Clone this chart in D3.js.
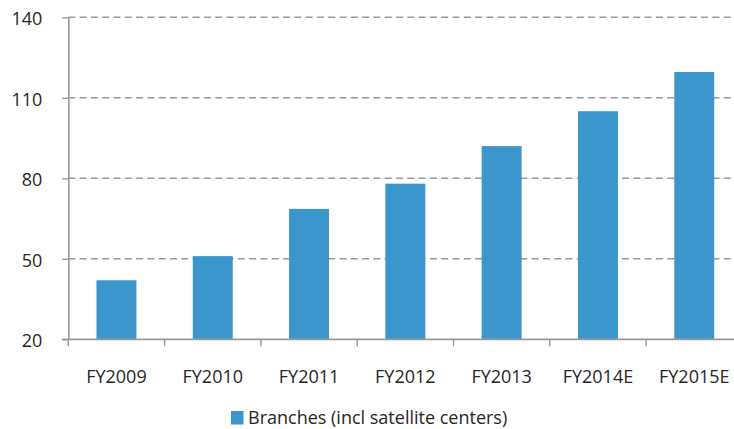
<!DOCTYPE html>
<html>
<head>
<meta charset="utf-8">
<script src="https://cdn.jsdelivr.net/npm/d3@7"></script>
<style>
  html, body { margin: 0; padding: 0; background: #fff; }
  svg { display: block; font-family: "Open Sans", sans-serif; }
</style>
</head>
<body>
<svg id="chart" width="734" height="429"></svg>
<script>
// Branch count by fiscal year
const categories = ["FY2009", "FY2010", "FY2011", "FY2012", "FY2013", "FY2014E", "FY2015E"];
const branches = [42, 51, 68.6, 78, 92, 105, 119.6];
const yTicks = [20, 50, 80, 110, 140];
const seriesName = "Branches (incl satellite centers)";

const W = 734, H = 429;
const plotLeft = 68.3, plotTop = 17.3, plotBottom = 339.3, step = 96.3;
const barColor = "#3A96CD";
const axisColor = "#999999";
const textColor = "#262626";

const svg = d3.select("#chart");

const x = d3.scaleBand()
  .domain(categories)
  .range([plotLeft, plotLeft + step * categories.length])
  .paddingInner(0.585)
  .paddingOuter(0.2925);

const y = d3.scaleLinear().domain([20, 140]).range([plotBottom, plotTop]);

// dashed horizontal gridlines
svg.append("g")
  .selectAll("line")
  .data(yTicks.filter(d => d !== 20))
  .join("line")
  .attr("x1", plotLeft).attr("x2", W)
  .attr("y1", d => y(d)).attr("y2", d => y(d))
  .attr("stroke", axisColor)
  .attr("stroke-width", 1.4)
  .attr("stroke-dasharray", "7,4.3");

// bars
svg.append("g")
  .selectAll("rect")
  .data(categories.map((c, i) => ({ c, v: branches[i] })))
  .join("rect")
  .attr("x", d => x(d.c))
  .attr("width", x.bandwidth())
  .attr("y", d => y(d.v))
  .attr("height", d => y(20) - y(d.v))
  .attr("fill", barColor);

// y axis
const yAxis = svg.append("g")
  .attr("transform", `translate(${plotLeft},0)`)
  .call(d3.axisLeft(y).tickValues(yTicks).tickSize(6).tickPadding(20).tickSizeOuter(0));
yAxis.select(".domain").attr("stroke", axisColor).attr("stroke-width", 1.6);
yAxis.selectAll(".tick line").attr("stroke", axisColor).attr("stroke-width", 1.4);
yAxis.selectAll(".tick text")
  .attr("font-size", 18)
  .attr("font-family", "Open Sans, sans-serif")
  .attr("fill", textColor)
  .attr("dy", "0.42em");

// x axis baseline
svg.append("line")
  .attr("x1", plotLeft - 6).attr("x2", W)
  .attr("y1", plotBottom).attr("y2", plotBottom)
  .attr("stroke", axisColor)
  .attr("stroke-width", 1.8);

// category boundary ticks
const bounds = categories.map(c => x(c) - x.step() * x.paddingInner() / 2);
bounds.push(bounds[bounds.length - 1] + x.step());
svg.append("g")
  .selectAll("line")
  .data(bounds)
  .join("line")
  .attr("x1", d => d).attr("x2", d => d)
  .attr("y1", plotBottom).attr("y2", plotBottom + 7)
  .attr("stroke", axisColor)
  .attr("stroke-width", 1.4);

// category labels
const xAxis = svg.append("g")
  .attr("transform", `translate(0,${plotBottom})`)
  .call(d3.axisBottom(x).tickSize(0).tickPadding(31));
xAxis.select(".domain").remove();
xAxis.selectAll(".tick text")
  .attr("font-size", 18)
  .attr("font-family", "Open Sans, sans-serif")
  .attr("fill", textColor);

// legend
const legend = svg.append("g").attr("transform", "translate(231,411)");
legend.append("rect")
  .attr("width", 12.5).attr("height", 13.5)
  .attr("fill", barColor);
legend.append("text")
  .attr("x", 17).attr("y", 13.2)
  .attr("font-size", 18)
  .attr("font-family", "Open Sans, sans-serif")
  .attr("fill", textColor)
  .text(seriesName);
</script>
</body>
</html>
